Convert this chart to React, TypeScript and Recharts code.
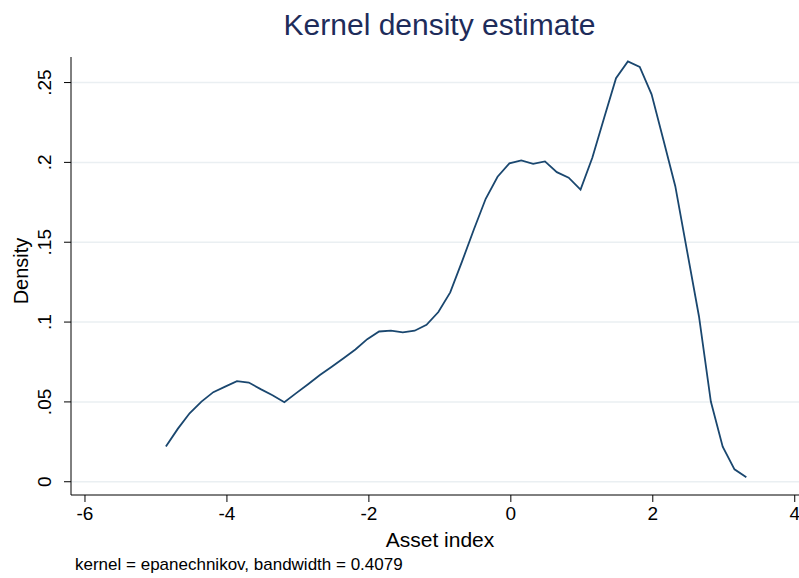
import React from "react";
import { LineChart, Line, XAxis, YAxis, CartesianGrid } from "recharts";

const assetIndex: number[] = [
  -4.86, -4.693, -4.526, -4.359, -4.192, -4.025, -3.859, -3.692, -3.525, -3.358,
  -3.191, -3.024, -2.857, -2.69, -2.523, -2.357, -2.19, -2.023, -1.856, -1.689,
  -1.522, -1.355, -1.188, -1.021, -0.854, -0.687, -0.521, -0.354, -0.187, -0.02,
  0.147, 0.314, 0.481, 0.648, 0.815, 0.982, 1.148, 1.315, 1.482, 1.649,
  1.816, 1.983, 2.15, 2.317, 2.484, 2.651, 2.818, 2.985, 3.151, 3.318,
];

const density: number[] = [
  0.022, 0.0331, 0.0429, 0.0502, 0.0561, 0.0596, 0.063, 0.0621, 0.058, 0.0542,
  0.0498, 0.0555, 0.0611, 0.0668, 0.072, 0.0774, 0.0828, 0.0893, 0.0941, 0.0946,
  0.0935, 0.0946, 0.0983, 0.1063, 0.1186, 0.138, 0.158, 0.1772, 0.191, 0.1994,
  0.2012, 0.1991, 0.2006, 0.1939, 0.1904, 0.183, 0.2029, 0.228, 0.2527, 0.2632,
  0.2598, 0.2426, 0.214, 0.1851, 0.1443, 0.1035, 0.0502, 0.022, 0.0078, 0.0028,
];

const xTicks: number[] = [-6, -4, -2, 0, 2, 4];
const yTicks: number[] = [0, 0.05, 0.1, 0.15, 0.2, 0.25];
const yTickLabels: string[] = ["0", ".05", ".1", ".15", ".2", ".25"];

const data = assetIndex.map((x, i) => ({ x, d: density[i] }));

const FONT = "Arial, 'Liberation Sans', Helvetica, sans-serif";

const YTick = (props: any) => {
  const { x, y, payload } = props;
  const idx = yTicks.indexOf(payload.value);
  const label = idx >= 0 ? yTickLabels[idx] : String(payload.value);
  const bx = x - 11;
  return (
    <text
      x={bx}
      y={y}
      transform={`rotate(-90, ${bx}, ${y})`}
      textAnchor="middle"
      fontFamily={FONT}
      fontSize={19}
      fill="#000"
    >
      {label}
    </text>
  );
};

const XTick = (props: any) => {
  const { x, y, payload } = props;
  return (
    <text x={x} y={y + 16} textAnchor="middle" fontFamily={FONT} fontSize={19} fill="#000">
      {String(payload.value)}
    </text>
  );
};

export default function App() {
  return (
    <div style={{ position: "absolute", left: 0, top: 0, width: 799, height: 578, background: "#fff" }}>
      <LineChart
        width={799}
        height={578}
        data={data}
        margin={{ top: 57, right: 0, left: 0, bottom: 0 }}
      >
        <CartesianGrid vertical={false} stroke="#eaeff2" strokeWidth={1.5} horizontalValues={yTicks} />
        <XAxis
          dataKey="x"
          type="number"
          domain={[-6.197, 4.06]}
          ticks={xTicks}
          allowDataOverflow
          height={83}
          stroke="#000"
          tickSize={7}
          tick={<XTick />}
          label={{
            content: () => (
              <text x={440} y={547} textAnchor="middle" fontFamily={FONT} fontSize={21} fill="#000">
                Asset index
              </text>
            ),
          }}
        />
        <YAxis
          type="number"
          domain={[-0.0083, 0.266]}
          ticks={yTicks}
          allowDataOverflow
          width={71}
          stroke="#000"
          tickSize={7}
          tick={<YTick />}
          label={{
            content: () => (
              <text
                x={28}
                y={271}
                transform="rotate(-90, 28, 271)"
                textAnchor="middle"
                fontFamily={FONT}
                fontSize={20}
                fill="#000"
              >
                Density
              </text>
            ),
          }}
        />
        <Line
          type="linear"
          dataKey="d"
          stroke="#1a476f"
          strokeWidth={1.8}
          dot={false}
          isAnimationActive={false}
        />
      </LineChart>
      <div
        style={{
          position: "absolute",
          left: 0,
          width: 879,
          top: 8,
          textAlign: "center",
          fontFamily: FONT,
          fontSize: 30,
          color: "#1e2c5a",
          lineHeight: "34px",
        }}
      >
        Kernel density estimate
      </div>
      <div
        style={{
          position: "absolute",
          left: 75,
          top: 555,
          fontFamily: FONT,
          fontSize: 17,
          color: "#000",
          lineHeight: "20px",
          whiteSpace: "nowrap",
        }}
      >
        kernel = epanechnikov, bandwidth = 0.4079
      </div>
    </div>
  );
}
